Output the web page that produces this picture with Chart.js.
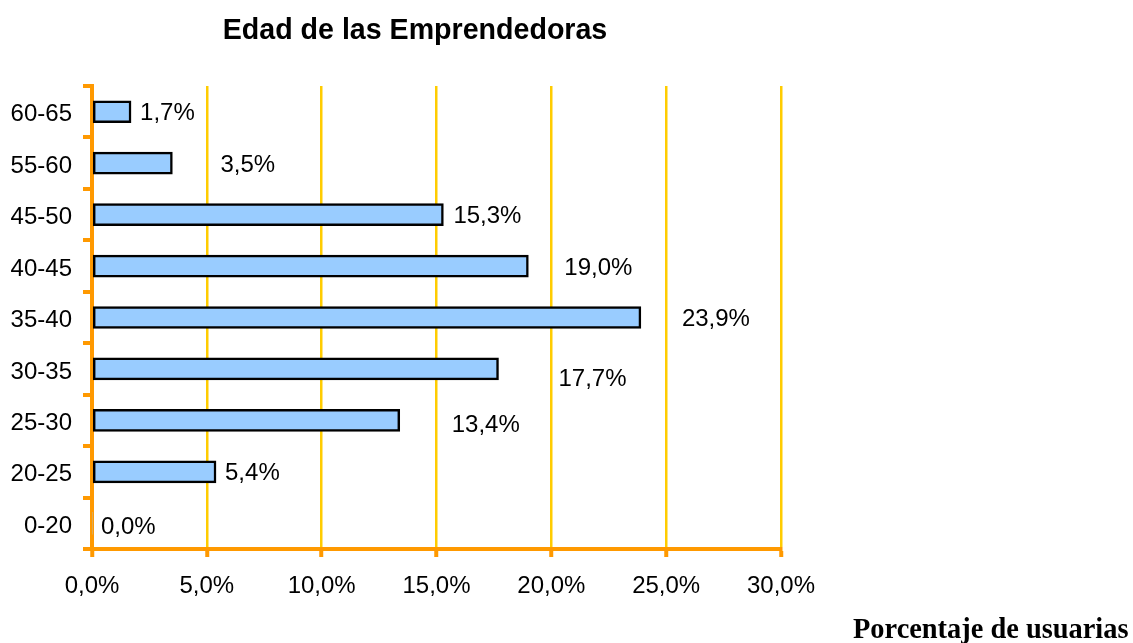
<!DOCTYPE html>
<html><head><meta charset="utf-8">
<script src="https://cdn.jsdelivr.net/npm/chart.js@4/dist/chart.umd.min.js"></script>
<style>html,body{margin:0;padding:0;background:#fff}canvas{display:block}</style>
</head><body>
<canvas id="c" width="1133" height="643"></canvas>
<script>
const categories = ['60-65','55-60','45-50','40-45','35-40','30-35','25-30','20-25','0-20'];
const percentages = [1.7, 3.5, 15.3, 19.0, 23.9, 17.7, 13.4, 5.4, 0.0];
const xTicks = [0, 5, 10, 15, 20, 25, 30];
const chartTitle = 'Edad de las Emprendedoras';
const axisTitle = 'Porcentaje de usuarias';

const labelShift = [[9,0],[48,0],[10,0],[36,0],[41,0],[60,8],[52,3],[9,0],[9,2]];
const fmt = v => Number(v).toFixed(1).replace('.', ',') + '%';
const SANS = '"Liberation Sans", Arial, sans-serif';
const ORANGE = '#FF9900', YELLOW = '#FFCC00';

const textPlugin = {
  id: 'texts',
  afterDatasetsDraw(chart) {
    const ctx = chart.ctx;
    const meta = chart.getDatasetMeta(0);
    ctx.save();
    ctx.font = '24px ' + SANS;
    ctx.fillStyle = '#000';
    ctx.textAlign = 'left';
    ctx.textBaseline = 'alphabetic';
    meta.data.forEach((bar, i) => {
      const [dx, dy] = labelShift[i];
      ctx.fillText(fmt(percentages[i]), bar.x + dx, bar.y + dy + 8.6);
    });
    ctx.restore();
  },
  afterDraw(chart) {
    const ctx = chart.ctx;
    ctx.save();
    ctx.fillStyle = '#000';
    ctx.textBaseline = 'alphabetic';
    ctx.font = 'bold 28.6px ' + SANS;
    ctx.textAlign = 'center';
    ctx.fillText(chartTitle, 415, 38.5);
    ctx.font = 'bold 28.4px "Liberation Serif", "Times New Roman", serif';
    ctx.textAlign = 'left';
    ctx.fillText(axisTitle, 853, 638);
    ctx.restore();
  }
};

new Chart(document.getElementById('c'), {
  type: 'bar',
  data: {
    labels: categories,
    datasets: [{
      data: percentages,
      backgroundColor: '#99CCFF',
      borderColor: '#000000',
      borderWidth: ctx => (percentages[ctx.dataIndex] === 0 ? 0 : 2.5),
      borderSkipped: false,
      barThickness: 22
    }]
  },
  options: {
    indexAxis: 'y',
    responsive: false,
    animation: false,
    events: [],
    layout: { padding: { top: 86, right: 352, left: 0, bottom: 0 } },
    plugins: { legend: { display: false }, tooltip: { enabled: false }, title: { display: false } },
    scales: {
      x: {
        type: 'linear', min: 0, max: 30,
        afterBuildTicks: s => { s.ticks = xTicks.map(v => ({ value: v })); },
        afterFit: s => { s.height = 94; },
        border: { display: true, color: ORANGE, width: 4 },
        grid: { color: YELLOW, lineWidth: 2.5, drawTicks: true, tickColor: ORANGE, tickWidth: 4, tickLength: 8 },
        ticks: { callback: v => fmt(v), color: '#000', font: { family: SANS, size: 24 }, padding: 15, maxRotation: 0 }
      },
      y: {
        afterFit: s => { s.width = 92; },
        border: { display: true, color: ORANGE, width: 4 },
        grid: { display: true, drawOnChartArea: false, drawTicks: true, color: ORANGE, lineWidth: 4, tickLength: 9, offset: true },
        ticks: { color: '#000', font: { family: SANS, size: 24 }, padding: 11, labelOffset: 3 }
      }
    }
  },
  plugins: [textPlugin]
});
</script>
</body></html>
